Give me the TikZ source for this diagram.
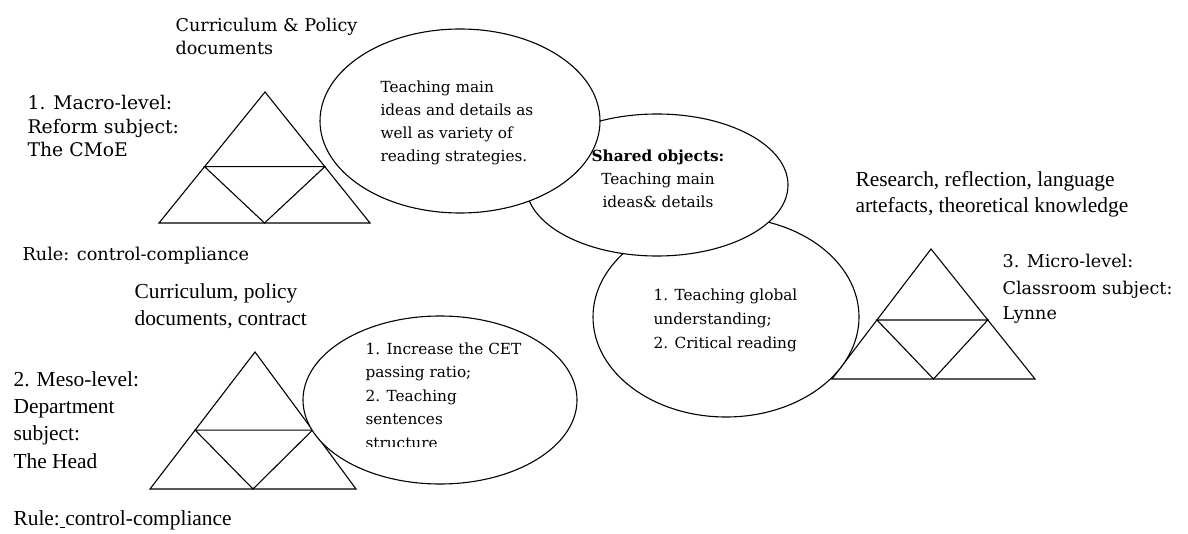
\documentclass[tikz,border=0pt]{standalone}
\usepackage{fontspec}
\setmainfont{Liberation Serif}
\newfontfamily\cambfont{DejaVu Serif}
\usepackage{tikz}
\usetikzlibrary{shapes.geometric,calc}

\newcommand{\tnrsize}{\fontsize{10.7}{13.3}\selectfont}
\newcommand{\cmbsize}{\cambfont\fontsize{7.65}{11.6}\selectfont}

\begin{document}
\begin{tikzpicture}[
  x=0.5pt, y=-0.5pt, line width=0.55pt,
  bubble/.style={draw, ellipse, fill=white, inner sep=0pt},
  times/.style={anchor=base west, align=left, inner sep=0pt, font=\tnrsize},
  camb/.style={anchor=base west, align=left, inner sep=0pt, font=\cmbsize},
]
\useasboundingbox (0,0) rectangle (1188,534);

% Triangles
\foreach \name/\ax/\ay/\lx/\rx/\by/\t in {macro/265/92/159/370/223/0.57, meso/255/352/150/356/489/0.57, micro/931/249/832/1035/379/0.546} {
  \coordinate (\name-top) at (\ax,\ay);
  \coordinate (\name-bl) at (\lx,\by);
  \coordinate (\name-br) at (\rx,\by);
  \draw (\name-top) -- (\name-bl) -- (\name-br) -- cycle;
  \draw ($(\name-top)!\t!(\name-bl)$) -- ($(\name-top)!\t!(\name-br)$) -- ($(\name-bl)!0.5!(\name-br)$) -- cycle;
}

% Objects
\node[bubble, minimum width=133pt, minimum height=100pt] (objMicro) at (726,317) {};
\node[bubble, minimum width=131pt, minimum height=71pt] (objShared) at (657,185) {};
\node[bubble, minimum width=140pt, minimum height=92pt] (objMacro) at (460,121) {};
\node[bubble, minimum width=137pt, minimum height=84pt] (objMeso) at (440,400) {};

\node[camb] (txtMacro) at (380,162) {Teaching main\\ideas and details as\\well as variety of\\reading strategies.};
\node[anchor=base, align=center, inner sep=0pt, font=\cmbsize] (txtShared) at (658,208) {\textbf{Shared objects:}\\Teaching main\\ideas\& details};
\node[camb, font=\cambfont\fontsize{7.65}{12}\selectfont] (txtMicro) at (653,348) {1. Teaching global\\understanding;\\2. Critical reading};
\begin{scope}
  \clip (360,320) rectangle (570,446);
  \node[camb, font=\cambfont\fontsize{7.65}{11.7}\selectfont] (txtMeso) at (365,448) {1. Increase the CET\\passing ratio;\\2. Teaching\\sentences\\structure};
\end{scope}

% Labels
\node[camb, font=\cambfont\fontsize{8.8}{11.6}\selectfont] (toolMacro) at (175,55) {Curriculum \& Policy\\documents};
\node[camb, font=\cambfont\fontsize{9.4}{11.8}\selectfont] (subjMacro) at (27,157) {1. Macro-level:\\Reform subject:\\The CMoE};
\node[camb, font=\cambfont\fontsize{8.85}{11.6}\selectfont] (ruleMacro) at (22,261) {Rule: control-compliance};

\node[times] (toolMeso) at (134,325) {Curriculum, policy\\documents, contract};
\node[times, font=\fontsize{10.7}{13.6}\selectfont] (subjMeso) at (13,468) {2. Meso-level:\\Department\\subject:\\The Head};
\node[times] (ruleMeso) at (13,525) {Rule:\underline{\ }control-compliance};

\node[times] (toolMicro) at (855,213) {Research, reflection, language\\artefacts, theoretical knowledge};
\node[camb, font=\cambfont\fontsize{8.8}{13}\selectfont] (subjMicro) at (1002,320) {3. Micro-level:\\Classroom subject:\\Lynne};
\end{tikzpicture}
\end{document}
